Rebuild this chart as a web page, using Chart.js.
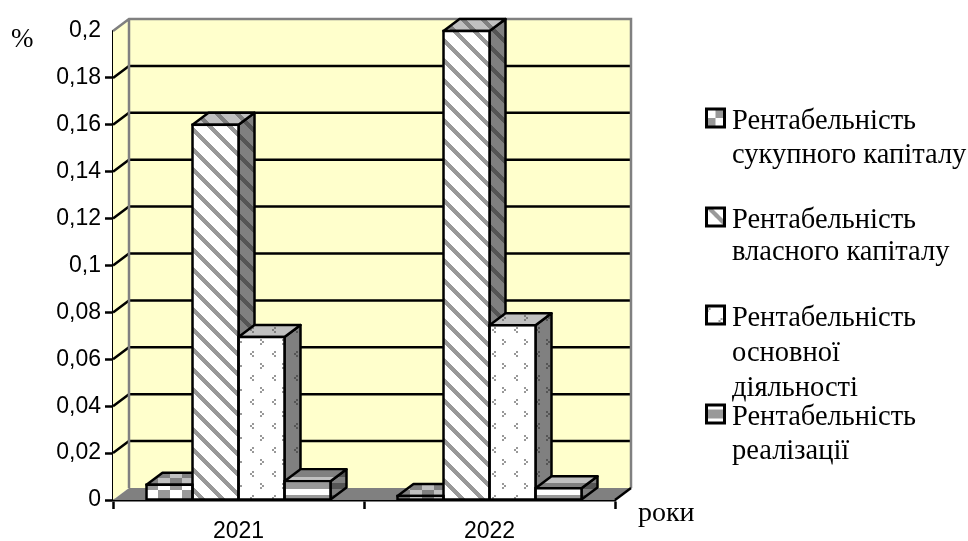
<!DOCTYPE html>
<html>
<head>
<meta charset="utf-8">
<style>
  html, body { margin: 0; padding: 0; background: #fff; }
  canvas { display: block; }
</style>
<script src="https://cdn.jsdelivr.net/npm/chart.js@4/dist/chart.umd.min.js"></script>
</head>
<body>
<canvas id="rentChart" width="968" height="541"></canvas>
<script>
// Profitability ratios by year
const years = ['2021', '2022'];
const sukupnyi = [0.0065, 0.0017];
const vlasnyi = [0.16, 0.2];
const osnovna = [0.0695, 0.0745];
const realizatsia = [0.008, 0.005];
const yTickLabels = ['0', '0,02', '0,04', '0,06', '0,08', '0,1', '0,12', '0,14', '0,16', '0,18', '0,2'];

const legendLines = [
    ['Рентабельність', 'сукупного капіталу'],
    ['Рентабельність', 'власного капіталу'],
    ['Рентабельність', 'основної', 'діяльності'],
    ['Рентабельність', 'реалізації']
];

// depth of the fake 3d box
const depthX = 16;
const depthY = -12;

const FRONT = ['#ffffff', '#999999'];
const TOP = ['#c0c0c0', '#808080'];
const SIDE = ['#808080', '#555555'];

// Tile painters for the bar fills
const tiles = {
    checks(g, light, dark) {
        g.fillStyle = light; g.fillRect(0, 0, 24, 24);
        g.fillStyle = dark; g.fillRect(12, 0, 12, 12); g.fillRect(0, 12, 12, 12);
    },
    diagonal(g, light, dark) {
        g.fillStyle = light; g.fillRect(0, 0, 20, 20);
        g.fillStyle = dark;
        for (let y = 0; y < 20; y++) {
            for (let x = 0; x < 20; x++) {
                if ((x - y + 20) % 20 < 6) g.fillRect(x, y, 1, 1);
            }
        }
    },
    dots(g, light, dark) {
        g.fillStyle = light; g.fillRect(0, 0, 22, 24);
        g.fillStyle = dark;
        const chevron = (x, y, dir) => {
            g.fillRect(x + (dir > 0 ? 0 : 3), y, 2, 2);
            g.fillRect(x + (dir > 0 ? 2 : 1), y + 2, 2, 2);
            g.fillRect(x + (dir > 0 ? 0 : 3), y + 4, 2, 2);
        };
        chevron(0, 0, 1);
        chevron(11, 12, -1);
    },
    bands(g, light, dark) {
        g.fillStyle = light; g.fillRect(0, 0, 12, 12);
        g.fillStyle = dark; g.fillRect(0, 3, 12, 6);
    }
};
const tileSize = { checks: [24, 24], diagonal: [20, 20], dots: [22, 24], bands: [12, 12] };
const tileShift = { checks: [2, 10], diagonal: [1, 0], dots: [18, 3], bands: [0, 0] };

function makePattern(ctx, name, colors, noShift) {
    const c = document.createElement('canvas');
    c.width = tileSize[name][0];
    c.height = tileSize[name][1];
    tiles[name](c.getContext('2d'), colors[0], colors[1]);
    const p = ctx.createPattern(c, 'repeat');
    if (!noShift) p.setTransform(new DOMMatrix().translate(tileShift[name][0], tileShift[name][1]));
    return p;
}

const ctx = document.getElementById('rentChart').getContext('2d');
const patternNames = ['checks', 'diagonal', 'dots', 'bands'];
const swatchScale = [0.75, 1, 1, 1.5];

function poly(c, pts, fill, stroke, width) {
    c.beginPath();
    pts.forEach((p, i) => i ? c.lineTo(p[0], p[1]) : c.moveTo(p[0], p[1]));
    c.closePath();
    if (fill) { c.fillStyle = fill; c.fill(); }
    if (stroke) { c.strokeStyle = stroke; c.lineWidth = width; c.lineJoin = 'round'; c.stroke(); }
}

// back wall, side wall, floor, and the top/side faces of each bar
const boxPlugin = {
    id: 'box',
    beforeDatasetsDraw(chart) {
        const c = chart.ctx;
        const a = chart.chartArea;
        const y = chart.scales.y;
        c.save();
        poly(c, [[a.left + depthX, a.top + depthY], [a.right + depthX, a.top + depthY],
                 [a.right + depthX, a.bottom + depthY], [a.left + depthX, a.bottom + depthY]], '#ffffcc');
        poly(c, [[a.left, a.top], [a.left + depthX, a.top + depthY],
                 [a.left + depthX, a.bottom + depthY], [a.left, a.bottom]], '#ffffcc');

        // grid lines run along the side wall and the back wall
        c.strokeStyle = '#000';
        c.lineWidth = 2.5;
        yTickLabels.forEach((_, i) => {
            if (i === 0 || i === yTickLabels.length - 1) return;
            const py = y.getPixelForValue(i * 0.02);
            c.beginPath();
            c.moveTo(a.left, py);
            c.lineTo(a.left + depthX, py + depthY);
            c.lineTo(a.right + depthX, py + depthY);
            c.stroke();
        });

        // wall outline
        c.strokeStyle = '#808080';
        c.lineWidth = 2.5;
        c.beginPath();
        c.moveTo(a.left, a.top);
        c.lineTo(a.left + depthX, a.top + depthY);
        c.lineTo(a.right + depthX, a.top + depthY);
        c.lineTo(a.right + depthX, a.bottom + depthY);
        c.moveTo(a.left + depthX, a.top + depthY);
        c.lineTo(a.left + depthX, a.bottom + depthY);
        c.stroke();

        poly(c, [[a.left, a.bottom], [a.right, a.bottom],
                 [a.right + depthX, a.bottom + depthY], [a.left + depthX, a.bottom + depthY]], '#808080');
        c.strokeStyle = '#000';
        c.beginPath();
        c.moveTo(a.right, a.bottom);
        c.lineTo(a.right + depthX, a.bottom + depthY);
        c.stroke();

        years.forEach((_, i) => {
            chart.data.datasets.forEach((ds, d) => {
                const bar = chart.getDatasetMeta(d).data[i];
                const l = bar.x - bar.width / 2;
                const r = bar.x + bar.width / 2;
                poly(c, [[r, bar.y], [r + depthX, bar.y + depthY],
                         [r + depthX, bar.base + depthY], [r, bar.base]],
                     makePattern(c, patternNames[d], SIDE), '#000', 2.5);
                poly(c, [[l, bar.y], [r, bar.y], [r + depthX, bar.y + depthY],
                         [l + depthX, bar.y + depthY]],
                     makePattern(c, patternNames[d], TOP), '#000', 2.5);
            });
        });
        c.restore();
    },
    // shared edges between neighbouring bars stay one line wide
    afterDatasetsDraw(chart) {
        const c = chart.ctx;
        c.save();
        c.strokeStyle = '#000';
        c.lineWidth = 2.5;
        chart.data.datasets.forEach((ds, d) => {
            chart.getDatasetMeta(d).data.forEach(bar => {
                c.strokeRect(bar.x - bar.width / 2, bar.y, bar.width, bar.base - bar.y);
            });
        });
        c.restore();
    },
    afterDraw(chart) {
        const c = chart.ctx;
        c.save();
        c.fillStyle = '#000';
        c.textBaseline = 'alphabetic';
        c.textAlign = 'left';
        c.font = '27px "Liberation Serif"';
        c.fillText('%', 11, 47);
        c.font = '28px "Liberation Serif"';
        c.fillText('роки', 638, 521);

        // hand-built legend because the labels wrap over several lines
        const rows = [129, 228, 326, 425];
        const lineGap = [34, 32, 35, 34];
        c.font = '28.5px "Liberation Serif"';
        legendLines.forEach((lines, i) => {
            const top = rows[i] - 20;
            c.save();
            c.translate(706.5, top);
            c.scale(swatchScale[i], swatchScale[i]);
            c.fillStyle = makePattern(c, patternNames[i], FRONT, true);
            c.fillRect(0, 0, 18 / swatchScale[i], 18 / swatchScale[i]);
            c.restore();
            c.strokeStyle = '#000';
            c.lineWidth = 3;
            c.strokeRect(706.5, top, 18, 18);
            c.fillStyle = '#000';
            lines.forEach((t, n) => c.fillText(t, 732, rows[i] + n * lineGap[i]));
        });
        c.restore();
    }
};

const series = [sukupnyi, vlasnyi, osnovna, realizatsia];

new Chart(ctx, {
    type: 'bar',
    data: {
        labels: years,
        datasets: series.map((values, d) => ({
            label: legendLines[d].join(' '),
            data: values,
            backgroundColor: makePattern(ctx, patternNames[d], FRONT),
            borderWidth: 0,
            barPercentage: 1,
            categoryPercentage: 0.733
        }))
    },
    plugins: [boxPlugin],
    options: {
        responsive: false,
        animation: false,
        layout: { padding: { top: 31, right: 353, left: 0, bottom: 0 } },
        plugins: { legend: { display: false }, tooltip: { enabled: false } },
        scales: {
            x: {
                afterFit(scale) { scale.height = 41; },
                border: { color: '#000', width: 2.5 },
                grid: { offset: true, drawOnChartArea: false, tickLength: 9, tickColor: '#000', tickWidth: 2.5 },
                ticks: {
                    color: '#000',
                    padding: 9,
                    maxRotation: 0,
                    font: { family: '"Liberation Sans"', size: 23 }
                }
            },
            y: {
                min: 0,
                max: 0.2,
                afterFit(scale) { scale.width = 113; },
                border: { color: '#000', width: 2.5 },
                grid: {
                    drawOnChartArea: false,
                    tickLength: 8,
                    tickWidth: 2.5,
                    tickColor: c => (c.index === yTickLabels.length - 1 ? 'rgba(0,0,0,0)' : '#000')
                },
                ticks: {
                    stepSize: 0.02,
                    color: '#000',
                    padding: 4,
                    font: { family: '"Liberation Sans"', size: 23 },
                    callback: (value, index) => yTickLabels[index]
                }
            }
        }
    }
});
</script>
</body>
</html>
